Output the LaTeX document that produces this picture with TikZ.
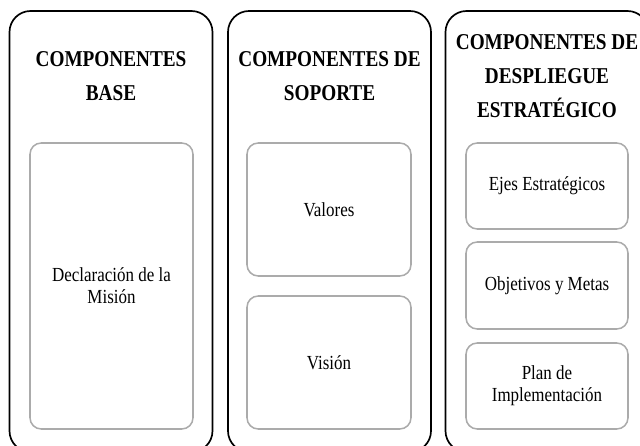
\documentclass[tikz,border=0pt]{standalone}
\usepackage{fontspec}
\setmainfont[FakeStretch=0.85]{Liberation Serif}
\begin{document}
\begin{tikzpicture}[
    group/.style={draw, line width=1.2pt, rounded corners=15pt, minimum width=5.075cm, minimum height=11.025cm},
    title/.style={font=\fontsize{16.1}{24.2}\selectfont\bfseries, align=center},
    item/.style={draw=black!33, line width=1.1pt, rounded corners=8pt, align=center, font=\fontsize{14.2}{15.6}\selectfont}
]
    \useasboundingbox (0,0) rectangle (16,11.15);
    \clip (0,0) rectangle (16,11.15);

    \node[group] (base) at (2.775,5.3625) {};
    \node[group] (soporte) at (8.2375,5.3625) {};
    \node[group] (despliegue) at (13.675,5.3625) {};

    \node[title] (tbase) at (2.775,9.25) {COMPONENTES\\BASE};
    \node[title] (tsoporte) at (8.2375,9.25) {COMPONENTES DE\\SOPORTE};
    \node[title] (tdespliegue) at (13.675,9.25) {COMPONENTES DE\\DESPLIEGUE\\ESTRATÉGICO};

    \node[item, minimum width=4.075cm, minimum height=7.15cm] (mision) at (2.7875,4.0) {Declaración de la\\Misión};
    \node[item, minimum width=4.1cm, minimum height=3.325cm] (valores) at (8.225,5.9125) {Valores};
    \node[item, minimum width=4.1cm, minimum height=3.325cm] (vision) at (8.225,2.0875) {Visión};
    \node[item, minimum width=4.05cm, minimum height=2.15cm] (ejes) at (13.675,6.5) {Ejes Estratégicos};
    \node[item, minimum width=4.05cm, minimum height=2.175cm] (objetivos) at (13.675,4.0125) {Objetivos y Metas};
    \node[item, minimum width=4.05cm, minimum height=2.15cm] (plan) at (13.675,1.5) {Plan de\\Implementación};
\end{tikzpicture}
\end{document}
